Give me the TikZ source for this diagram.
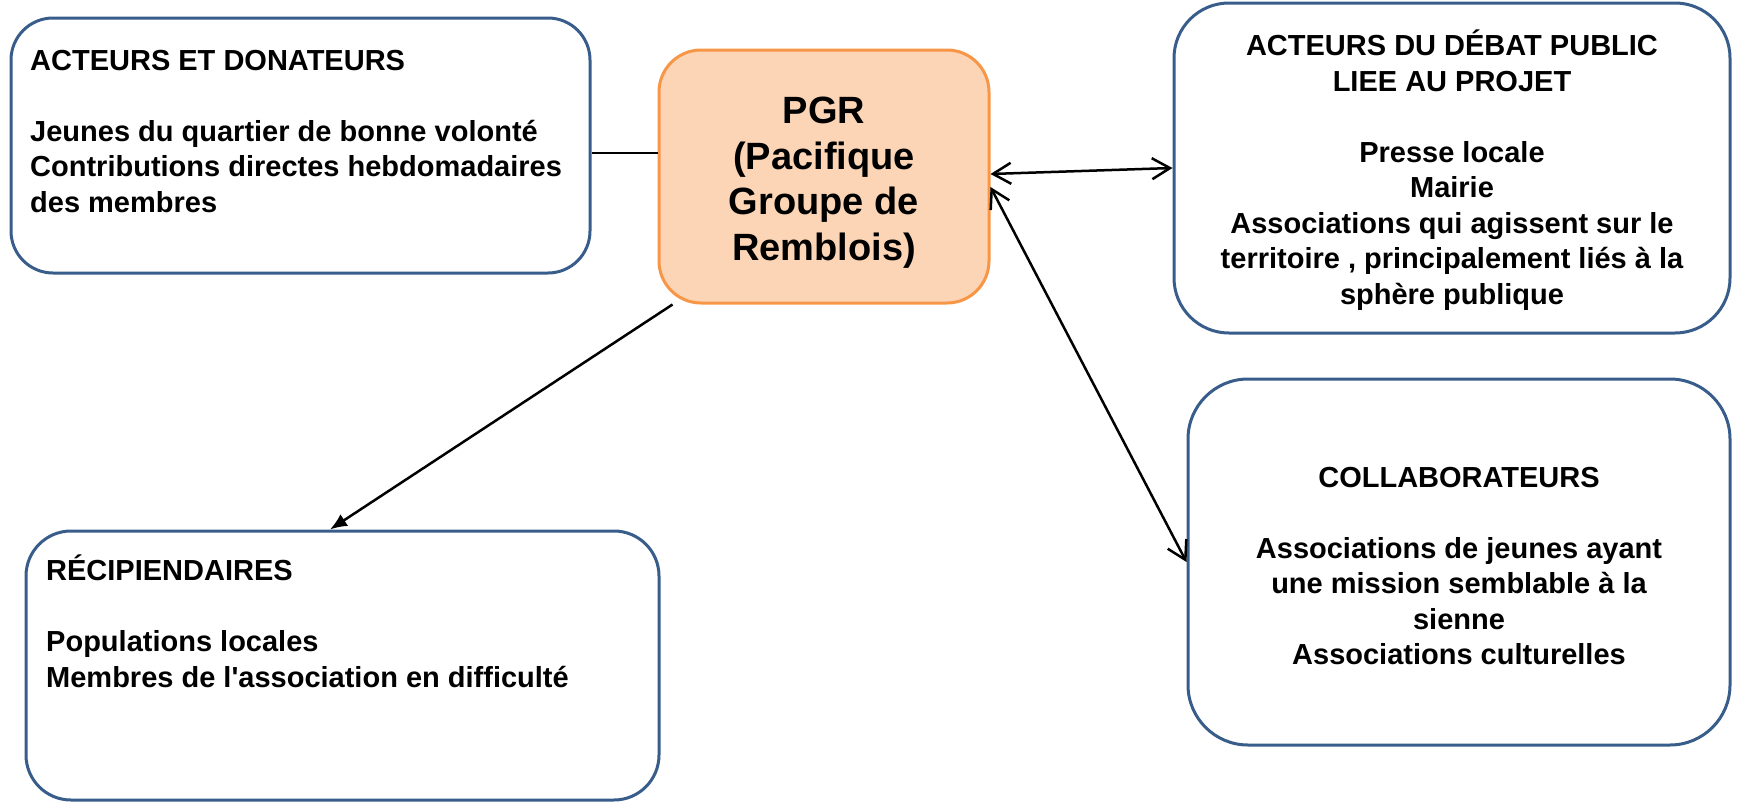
\documentclass[tikz,border=0pt]{standalone}
\usepackage{fontspec}
\newfontfamily\arialf{Liberation Sans}
\usetikzlibrary{arrows.meta}
\definecolor{boxblue}{HTML}{385D8A}
\definecolor{pgrorange}{HTML}{F79646}
\definecolor{pgrfill}{HTML}{FBD5B5}
\tikzset{
  barbtip/.tip={Straight Barb[length=18pt,width=21pt,line width=2.5pt]},
  filltip/.tip={Latex[length=17pt,width=14pt]},
}
\begin{document}
\begin{tikzpicture}[x=1pt,y=-1pt,
  panel/.style={draw=boxblue, line width=3pt, fill=white, rectangle, inner sep=0pt},
  pgrbox/.style={draw=pgrorange, line width=3pt, fill=pgrfill, rectangle, inner sep=0pt},
  txt/.style={inner sep=0pt, font=\arialf\bfseries\fontsize{29}{35.5}\selectfont},
  bigtxt/.style={inner sep=0pt, font=\arialf\bfseries\fontsize{38}{45.5}\selectfont},
  conn/.style={line width=2.5pt, draw=black}]
\useasboundingbox (0,0) rectangle (1746,803);
% boxes
\node[panel, rounded corners=42pt, minimum width=579pt, minimum height=255pt] (don) at (300.5,145.5) {};
\node[pgrbox, rounded corners=42pt, minimum width=330pt, minimum height=253pt] (pgr) at (824,176.5) {};
\node[panel, rounded corners=55pt, minimum width=556pt, minimum height=330pt] (deb) at (1452,168) {};
\node[panel, rounded corners=60pt, minimum width=542pt, minimum height=366pt] (col) at (1459,562) {};
\node[panel, rounded corners=45pt, minimum width=633pt, minimum height=269pt] (rec) at (342.5,665.5) {};
% texts
\node[txt, anchor=north west, align=left] (donT) at (30,50) {ACTEURS ET DONATEURS\\[35.5pt]Jeunes du quartier de bonne volonté\\Contributions directes hebdomadaires\\des membres};
\node[bigtxt, anchor=north, align=center] (pgrT) at (824,97) {PGR\\(Pacifique\\Groupe de\\Remblois)};
\node[txt, anchor=north, align=center] (debT) at (1452,30) {ACTEURS DU DÉBAT PUBLIC\\LIEE AU PROJET\\[35.5pt]Presse locale\\Mairie\\Associations qui agissent sur le\\territoire , principalement liés à la\\sphère publique};
\node[txt, anchor=north, align=center] (colT) at (1459,467) {COLLABORATEURS\\[35.5pt]Associations de jeunes ayant\\une mission semblable à la\\sienne\\Associations culturelles};
\node[txt, anchor=north west, align=left] (recT) at (46,555) {RÉCIPIENDAIRES\\[35.5pt]Populations locales\\Membres de l\symbol{39}association en difficulté};
% connectors
\draw[conn] ([yshift=-7.5pt]don.east) -- ([yshift=-7.5pt]don.east -| pgr.west);
\draw[conn, -filltip] ([xshift=15pt]pgr.south west) -- ([xshift=-12.5pt]rec.north);
\draw[conn, barbtip-barbtip] ([yshift=2.5pt]pgr.east) -- (deb.west);
\draw[conn, barbtip-barbtip] ([yshift=-10.5pt]pgr.east) -- (col.west);
\end{tikzpicture}
\end{document}
